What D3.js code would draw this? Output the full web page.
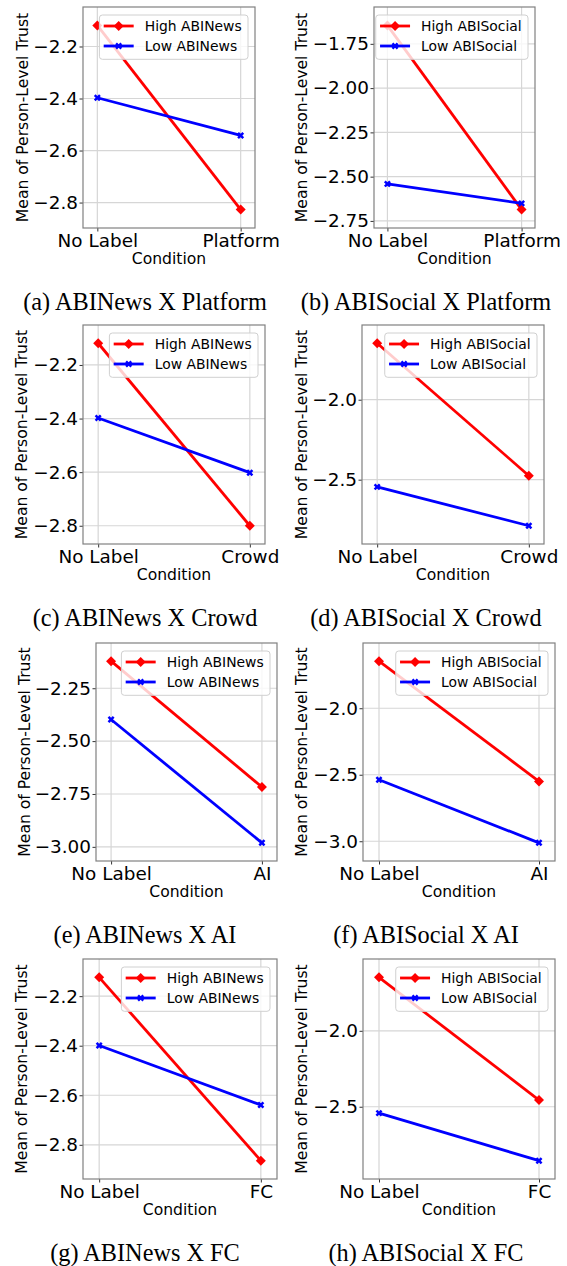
<!DOCTYPE html>
<html>
<head>
<meta charset="utf-8">
<script src="https://cdn.jsdelivr.net/npm/d3@7"></script>
<style>
  body { margin: 0; background: #fff; }
  svg { display: block; }
</style>
</head>
<body>
<div id="chart"></div>
<script>
// x categories
const baseCondition = 'No Label';
const conditions = ['Platform', 'Crowd', 'AI', 'FC'];

// mean person-level trust as [No Label, condition], one pair per condition
const newsHigh = [[-2.119, -2.827], [-2.119, -2.800], [-2.122, -2.717], [-2.124, -2.864]];
const newsLow = [[-2.397, -2.542], [-2.398, -2.602], [-2.398, -2.981], [-2.399, -2.639]];
const socialHigh = [[-1.646, -2.686], [-1.647, -2.475], [-1.646, -2.550], [-1.648, -2.456]];
const socialLow = [[-2.541, -2.651], [-2.545, -2.788], [-2.538, -3.012], [-2.542, -2.855]];

// y tick values per panel
const newsTicks = [
  [-2.8, -2.6, -2.4, -2.2],
  [-2.8, -2.6, -2.4, -2.2],
  [-3.0, -2.75, -2.5, -2.25],
  [-2.8, -2.6, -2.4, -2.2]
];
const socialTicks = [
  [-2.75, -2.5, -2.25, -2.0, -1.75],
  [-2.5, -2.0],
  [-3.0, -2.5, -2.0],
  [-2.5, -2.0]
];
const newsTickFormats = ['.1f', '.1f', '.2f', '.1f'];
const socialTickFormats = ['.2f', '.1f', '.1f', '.1f'];

const captionLetters = [['a', 'b'], ['c', 'd'], ['e', 'f'], ['g', 'h']];

// plot boxes per row: [left panel, right panel]
const boxes = [
  [{ x0: 83, x1: 255, y0: 7, y1: 228, ylab: 23 }, { x0: 374, x1: 535, y0: 7, y1: 228, ylab: 302 }],
  [{ x0: 83, x1: 265, y0: 325, y1: 544, ylab: 22 }, { x0: 362, x1: 544, y0: 325, y1: 544, ylab: 302 }],
  [{ x0: 96, x1: 277, y0: 643, y1: 861, ylab: 25 }, { x0: 363, x1: 555, y0: 643, y1: 861, ylab: 302 }],
  [{ x0: 83, x1: 277, y0: 959, y1: 1179, ylab: 22 }, { x0: 363, x1: 555, y0: 959, y1: 1179, ylab: 302 }]
];
const captionX = [145, 426];

const sansFont = "'DejaVu Sans', sans-serif";
const serifFont = "'Liberation Serif', 'Times New Roman', serif";
const red = '#ff0000';
const blue = '#0000ff';

const svg = d3.select('#chart')
  .append('svg')
  .attr('width', 567)
  .attr('height', 1266);

function drawPanel(box, high, low, ticks, fmt, group, condition, letter, cx) {
  const g = svg.append('g');

  const x = d3.scaleLinear().domain([-0.1, 1.1]).range([box.x0, box.x1]);
  const all = high.concat(low);
  const lo = d3.min(all), hi = d3.max(all);
  const pad = (hi - lo) * 0.1;
  const y = d3.scaleLinear().domain([lo - pad, hi + pad]).range([box.y1, box.y0]);

  // grid
  g.selectAll('.hgrid')
    .data(ticks)
    .enter()
    .append('line')
    .attr('x1', box.x0).attr('x2', box.x1)
    .attr('y1', d => y(d)).attr('y2', d => y(d))
    .attr('stroke', '#d6d6d6')
    .attr('stroke-width', 1.2);
  g.selectAll('.vgrid')
    .data([0, 1])
    .enter()
    .append('line')
    .attr('x1', d => x(d)).attr('x2', d => x(d))
    .attr('y1', box.y0).attr('y2', box.y1)
    .attr('stroke', '#d6d6d6')
    .attr('stroke-width', 1.2);

  // axes
  const yAxis = g.append('g')
    .attr('transform', `translate(${box.x0},0)`)
    .call(d3.axisLeft(y).tickValues(ticks).tickFormat(d3.format(fmt)).tickSize(3.5).tickPadding(1.5));
  const xAxis = g.append('g')
    .attr('transform', `translate(0,${box.y1})`)
    .call(d3.axisBottom(x).tickValues([0, 1]).tickFormat(d => d === 0 ? baseCondition : condition).tickSize(3.5).tickPadding(2.5));
  [yAxis, xAxis].forEach(a => {
    a.select('.domain').remove();
    a.selectAll('.tick line').attr('stroke', '#333');
    a.selectAll('.tick text')
      .attr('fill', '#000')
      .style('font-family', sansFont)
      .style('font-size', '18.4px');
  });

  g.append('rect')
    .attr('x', box.x0).attr('y', box.y0)
    .attr('width', box.x1 - box.x0).attr('height', box.y1 - box.y0)
    .attr('fill', 'none')
    .attr('stroke', '#808080')
    .attr('stroke-width', 1.2);

  // axis labels
  g.append('text')
    .attr('x', (box.x0 + box.x1) / 2)
    .attr('y', box.y1 + 35.5)
    .attr('text-anchor', 'middle')
    .style('font-family', sansFont)
    .style('font-size', '15.6px')
    .text('Condition');
  g.append('text')
    .attr('transform', `translate(${box.ylab},${(box.y0 + box.y1) / 2}) rotate(-90)`)
    .attr('dy', '0.35em')
    .attr('text-anchor', 'middle')
    .style('font-family', sansFont)
    .style('font-size', '15.6px')
    .text('Mean of Person-Level Trust');

  // lines and markers
  const line = d3.line().x((d, i) => x(i)).y(d => y(d));
  const diamond = r => `M0,${-r}L${r},0L0,${r}L${-r},0Z`;
  const cross = d3.symbol().type(d3.symbolCross).size(30);

  g.append('path').datum(high)
    .attr('d', line).attr('fill', 'none')
    .attr('stroke', red).attr('stroke-width', 2.8);
  g.selectAll('.hm').data(high).enter().append('path')
    .attr('transform', (d, i) => `translate(${x(i)},${y(d)})`)
    .attr('d', diamond(5)).attr('fill', red);

  g.append('path').datum(low)
    .attr('d', line).attr('fill', 'none')
    .attr('stroke', blue).attr('stroke-width', 2.8);
  g.selectAll('.lm').data(low).enter().append('path')
    .attr('transform', (d, i) => `translate(${x(i)},${y(d)}) rotate(45)`)
    .attr('d', cross).attr('fill', blue);

  // legend
  const entries = [
    { label: `High ${group}`, color: red, marker: 'D' },
    { label: `Low ${group}`, color: blue, marker: 'X' }
  ];
  const leg = g.append('g');
  const frame = leg.append('rect');
  const rows = leg.selectAll('.row').data(entries).enter().append('g')
    .attr('transform', (d, i) => `translate(0,${11 + i * 20})`);
  rows.append('line')
    .attr('x1', 4.3).attr('x2', 34.3)
    .attr('stroke', d => d.color).attr('stroke-width', 2.8);
  rows.append('path')
    .attr('transform', d => d.marker === 'D' ? 'translate(19.3,0)' : 'translate(19.3,0) rotate(45)')
    .attr('d', d => d.marker === 'D' ? diamond(5) : cross())
    .attr('fill', d => d.color);
  const labels = rows.append('text')
    .attr('x', 45.3)
    .attr('dy', '0.35em')
    .style('font-family', sansFont)
    .style('font-size', '13.9px')
    .text(d => d.label);
  const textWidth = d3.max(labels.nodes(), n => n.getComputedTextLength());
  const legW = 45.3 + textWidth + 6.3;
  const legH = 44.3;
  frame.attr('width', legW).attr('height', legH)
    .attr('rx', 3)
    .attr('fill', '#fff').attr('fill-opacity', 0.8)
    .attr('stroke', '#d0d0d0').attr('stroke-width', 1);
  leg.attr('transform', `translate(${box.x1 - 7 - legW},${box.y0 + 8})`);

  // caption
  svg.append('text')
    .attr('x', cx)
    .attr('y', box.y1 + 82)
    .attr('text-anchor', 'middle')
    .style('font-family', serifFont)
    .style('font-size', '24.3px')
    .text(`(${letter}) ${group} X ${condition}`);
}

conditions.forEach((cond, i) => {
  drawPanel(boxes[i][0], newsHigh[i], newsLow[i], newsTicks[i], newsTickFormats[i],
    'ABINews', cond, captionLetters[i][0], captionX[0]);
  drawPanel(boxes[i][1], socialHigh[i], socialLow[i], socialTicks[i], socialTickFormats[i],
    'ABISocial', cond, captionLetters[i][1], captionX[1]);
});
</script>
</body>
</html>
